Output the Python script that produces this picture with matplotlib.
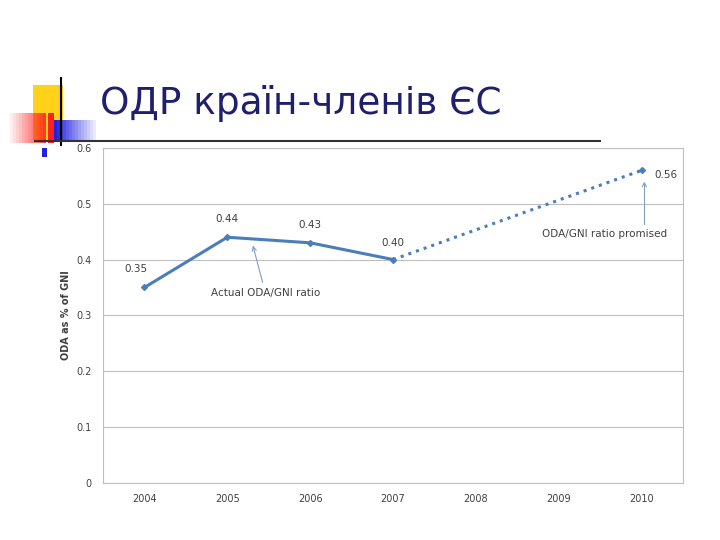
import numpy as np
import matplotlib.pyplot as plt
from matplotlib.patches import Rectangle

years = ["2004", "2005", "2006", "2007", "2008", "2009", "2010"]
actual = [0.35, 0.44, 0.43, 0.40]
promised_idx = [3, 6]
promised = [0.40, 0.56]
labels = ["0.35", "0.44", "0.43", "0.40"]

fig = plt.figure(figsize=(7.2, 5.4), dpi=100)

# slide decoration
deco = fig.add_axes([0, 0, 1, 1])
deco.set_xlim(0, 720)
deco.set_ylim(540, 0)
deco.axis("off")
deco.add_patch(Rectangle((33, 85), 30, 55, color="#ffcc00", alpha=0.9, lw=0))
for i in range(12):
    deco.add_patch(Rectangle((10 + i * 3, 113), 3, 30, color="#ff2020", alpha=0.08 + i * 0.07, lw=0))
deco.add_patch(Rectangle((48, 113), 6, 30, color="#ff2020", lw=0))
for i in range(14):
    deco.add_patch(Rectangle((54 + i * 3, 120), 3, 22, color="#2020e0", alpha=1 - i * 0.07, lw=0))
deco.plot([61, 61], [78, 145], color="black", lw=1.5)
deco.plot([35, 600], [141, 141], color="#333333", lw=1.5)
deco.add_patch(Rectangle((42, 148), 5, 9, color="#2020e0", lw=0))
deco.text(100, 103, "ОДР країн-членів ЄС", fontsize=27, color="#1f1f6e",
          va="center", ha="left")

ax = fig.add_axes([0.143, 0.106, 0.806, 0.62])
x = np.arange(len(actual))
ax.plot(x, actual, color="#4a7ebb", lw=2.2, marker="D", ms=3)
ax.plot(promised_idx, promised, color="#4a7ebb", lw=2.2, ls=":", marker="D", ms=3, markevery=[1])

ax.set_xlim(-0.5, 6.5)
ax.set_ylim(0, 0.6)
ax.set_xticks(range(len(years)))
ax.set_xticklabels(years)
ax.set_yticks(np.arange(0, 0.61, 0.1))
ax.set_yticklabels(["0", "0.1", "0.2", "0.3", "0.4", "0.5", "0.6"])
ax.yaxis.grid(True, color="#bfbfbf", lw=0.8)
ax.set_axisbelow(True)
ax.tick_params(length=0, labelsize=7, colors="#404040", pad=8)
for s in ax.spines.values():
    s.set_color("#bfbfbf")
ax.set_ylabel("ODA as % of GNI", fontsize=7, fontweight="bold", color="#404040")

offs = [(-0.1, 0.028), (0, 0.028), (0, 0.026), (0, 0.025)]
for i, (v, t) in enumerate(zip(actual, labels)):
    ax.text(i + offs[i][0], v + offs[i][1], t, fontsize=7.5, color="#404040", ha="center")
ax.text(6.15, 0.547, "0.56", fontsize=7.5, color="#404040", ha="left")

ax.annotate("Actual ODA/GNI ratio", xy=(1.3, 0.43), xytext=(0.8, 0.335),
            fontsize=7.5, color="#404040", ha="left",
            arrowprops=dict(arrowstyle="->", color="#7f9fc8", lw=0.8))
ax.annotate("ODA/GNI ratio promised", xy=(6.03, 0.545), xytext=(4.8, 0.44),
            fontsize=7.5, color="#404040", ha="left",
            arrowprops=dict(arrowstyle="->", color="#7f9fc8", lw=0.8,
                            connectionstyle="angle,angleA=0,angleB=90"))

fig.savefig("out.png", dpi=100)
